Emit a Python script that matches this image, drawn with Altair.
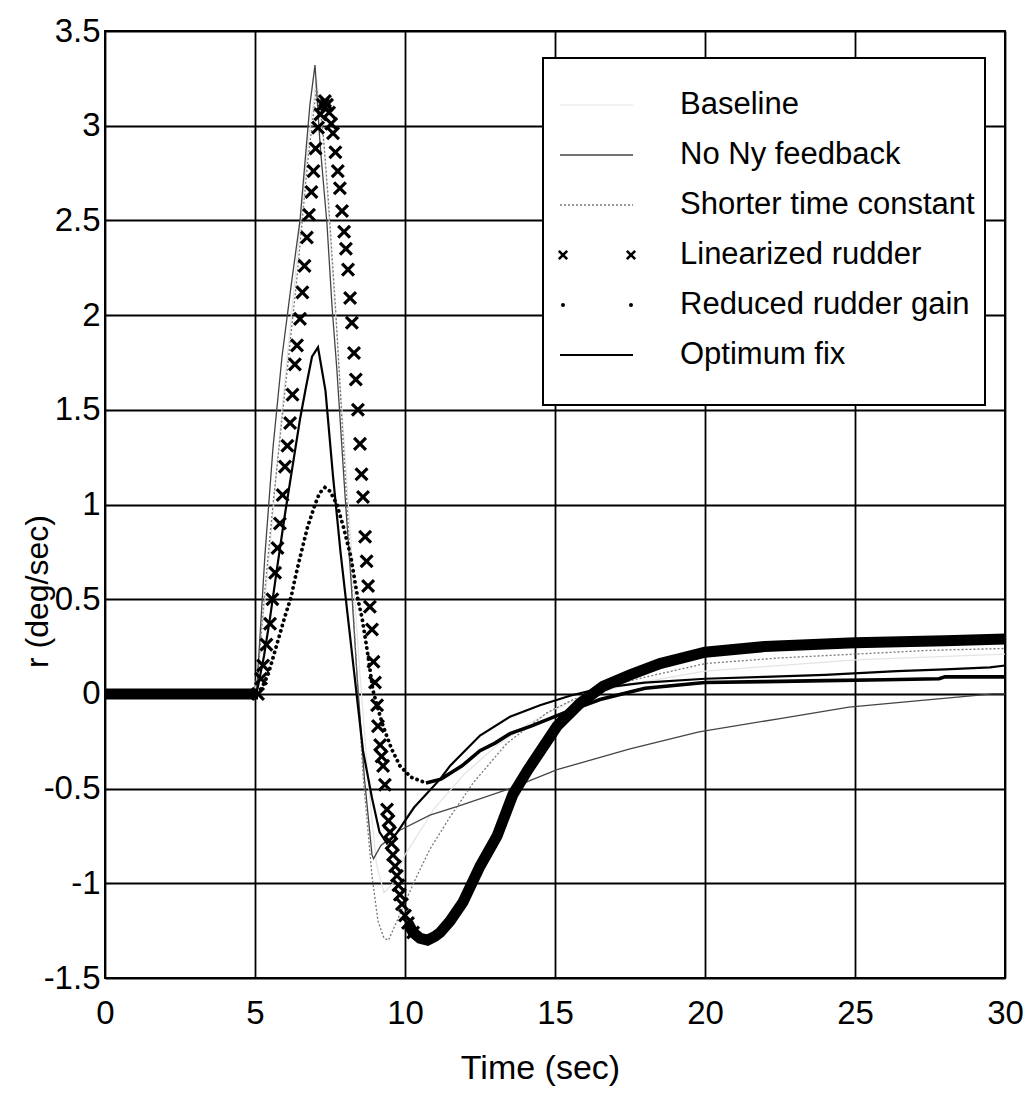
import altair as alt
import pandas as pd

FONT = "Liberation Sans, Arial, Helvetica, sans-serif"

series_names = ["Baseline", "No Ny feedback", "Shorter time constant",
                "Linearized rudder", "Reduced rudder gain", "Optimum fix"]

# Baseline (appears almost invisible in the reference)
t_base = [0, 5.0, 5.4, 5.9, 6.4, 6.8, 7.05, 7.3, 7.6, 7.9, 8.2, 8.5, 8.8, 9.05, 9.3, 9.6,
          10.0, 11.0, 12.0, 13.0, 14.0, 15.0, 16.0, 17.5, 20.0, 25.0, 30.0]
r_base = [0, 0, 0.6, 1.5, 2.3, 2.95, 3.25, 2.9, 2.2, 1.5, 0.8, 0.1, -0.5, -0.9, -1.05, -1.0,
          -0.85, -0.6, -0.42, -0.28, -0.17, -0.08, -0.01, 0.05, 0.12, 0.18, 0.21]

# No Ny feedback
t_nony = [0, 5.05, 5.33, 5.6, 5.9, 6.2, 6.5, 6.83, 7.0, 7.17, 7.4, 7.57, 7.73, 8.0, 8.2, 8.4,
          8.65, 8.9, 8.95, 9.2, 9.83, 10.83, 11.83, 13.5, 15.07, 17.5, 19.8, 22.5, 24.8, 27.5,
          29.6, 30]
r_nony = [0, 0, 0.73, 1.3, 1.78, 2.15, 2.5, 3.11, 3.32, 2.9, 2.48, 2.04, 1.71, 1.05, 0.6, 0.1,
          -0.45, -0.85, -0.87, -0.8, -0.72, -0.64, -0.59, -0.5, -0.4, -0.29, -0.2, -0.13, -0.07,
          -0.03, 0.0, 0.0]

# Shorter time constant
t_short = [0, 5.05, 5.3, 5.6, 6.0, 6.4, 6.75, 7.05, 7.25, 7.45, 7.7, 7.95, 8.2, 8.4, 8.6, 8.9,
           9.1, 9.3, 9.45, 9.73, 10.0, 10.4, 10.83, 11.5, 12.27, 13.4, 14.73, 15.6, 17.5, 20,
           22.5, 25, 27.5, 30]
r_short = [0, 0, 0.5, 1.0, 1.6, 2.2, 2.8, 3.2, 3.0, 2.6, 2.0, 1.3, 0.65, 0.1, -0.43, -0.96,
           -1.2, -1.29, -1.3, -1.2, -1.1, -0.96, -0.82, -0.65, -0.47, -0.26, -0.1, -0.03, 0.07,
           0.16, 0.19, 0.21, 0.23, 0.24]

# Linearized rudder
t_lin = [0, 5.1, 5.2, 5.27, 5.38, 5.5, 5.58, 5.67, 5.75, 5.83, 5.92, 6.0, 6.08, 6.17, 6.25,
         6.33, 6.4, 6.5, 6.58, 6.65, 6.73, 6.8, 6.88, 6.95, 7.02, 7.1, 7.18, 7.26, 7.33, 7.4,
         7.47, 7.54, 7.6, 7.68, 7.76, 7.83, 7.9, 7.97, 8.03, 8.1, 8.17, 8.23, 8.3, 8.36, 8.43,
         8.5, 8.55, 8.6, 8.67, 8.72, 8.77, 8.83, 8.9, 8.95, 9.0, 9.07, 9.1, 9.17, 9.22, 9.27,
         9.33, 9.4, 9.45, 9.5, 9.55, 9.6, 9.67, 9.73, 9.78, 9.83, 9.9, 10.0, 10.1, 10.27, 10.5,
         10.75, 11.0, 11.17, 11.5, 11.93, 12.5, 13.07, 13.6, 14.1, 15.07, 15.83, 16.6, 17.5,
         18.5, 20, 22, 25, 28, 30]
r_lin = [0, 0, 0.08, 0.15, 0.26, 0.37, 0.5, 0.64, 0.77, 0.9, 1.05, 1.2, 1.31, 1.43, 1.58,
         1.74, 1.84, 1.98, 2.12, 2.26, 2.41, 2.53, 2.65, 2.76, 2.88, 2.99, 3.06, 3.11, 3.13, 3.11,
         3.07, 3.01, 2.96, 2.86, 2.76, 2.67, 2.55, 2.44, 2.35, 2.24, 2.09, 1.96, 1.8, 1.66, 1.5,
         1.32, 1.16, 1.04, 0.83, 0.7, 0.57, 0.46, 0.34, 0.17, 0.06, -0.06, -0.17, -0.27, -0.33,
         -0.38, -0.48, -0.61, -0.67, -0.73, -0.79, -0.85, -0.91, -0.96, -1.01, -1.06, -1.11,
         -1.17, -1.21, -1.26, -1.29, -1.3, -1.28, -1.26, -1.2, -1.1, -0.91, -0.75, -0.53, -0.4,
         -0.17, -0.05, 0.04, 0.1, 0.16, 0.22, 0.25, 0.27, 0.28, 0.29]

# Reduced rudder gain
t_red = [0, 5.1, 5.25, 5.43, 5.6, 5.8, 6.0, 6.2, 6.35, 6.5, 6.75, 7.0, 7.15, 7.33, 7.5, 7.73,
         7.95, 8.2, 8.43, 8.57, 8.75, 8.93, 9.1, 9.27, 9.55, 9.83, 10.2, 10.7, 11.2, 11.9, 12.5,
         13.0, 13.5, 14.2, 15.3, 16.5, 17.5, 18, 20, 22, 24, 26, 27.8, 28, 30]
r_red = [0, 0, 0.04, 0.1, 0.19, 0.3, 0.41, 0.51, 0.62, 0.72, 0.88, 1.0, 1.06, 1.09, 1.07, 1.0,
         0.88, 0.72, 0.5, 0.4, 0.22, 0.02, -0.08, -0.17, -0.29, -0.38, -0.44, -0.47, -0.45,
         -0.38, -0.3, -0.26, -0.21, -0.17, -0.1, -0.03, 0.01, 0.03, 0.06, 0.065, 0.07, 0.075,
         0.08, 0.09, 0.09]

# Optimum fix
t_opt = [0, 5.05, 5.3, 5.5, 5.75, 6.0, 6.25, 6.5, 6.7, 6.9, 7.1, 7.35, 7.6, 7.85, 8.1, 8.35,
         8.6, 8.9, 9.15, 9.4, 9.7, 10.3, 11.17, 11.5, 12.5, 13.5, 14.5, 15.5, 16.5, 17.5, 18,
         20, 22, 24, 26.4, 28, 29.5, 30]
r_opt = [0, 0, 0.2, 0.4, 0.68, 0.95, 1.2, 1.45, 1.62, 1.78, 1.83, 1.6, 1.15, 0.75, 0.4, 0.05,
         -0.3, -0.55, -0.73, -0.79, -0.74, -0.6, -0.45, -0.38, -0.22, -0.12, -0.06, -0.01, 0.03,
         0.05, 0.06, 0.08, 0.09, 0.1, 0.12, 0.13, 0.14, 0.15]

x_ticks = [0, 5, 10, 15, 20, 25, 30]
y_ticks = [-1.5, -1.0, -0.5, 0.0, 0.5, 1.0, 1.5, 2.0, 2.5, 3.0, 3.5]


def df(t, r):
    return pd.DataFrame({"t": t, "r": r})


xscale = alt.Scale(domain=[0, 30], nice=False, zero=False)
yscale = alt.Scale(domain=[-1.5, 3.5], nice=False, zero=False)

xaxis = alt.Axis(values=x_ticks, title="Time (sec)", grid=True, gridColor="black",
                 gridWidth=1.8, gridOpacity=1, domain=False, ticks=False,
                 labelFont=FONT, labelFontSize=33, labelColor="black", labelPadding=19,
                 labelFlush=False, titleFont=FONT, titleFontSize=34, titleFontWeight="normal",
                 titleColor="black", titleX=435, titleY=100, titleBaseline="alphabetic",
                 titleAlign="center")
yaxis = alt.Axis(values=y_ticks, title="r (deg/sec)", grid=True, gridColor="black",
                 gridWidth=1.8, gridOpacity=1, domain=False, ticks=False,
                 labelFont=FONT, labelFontSize=33, labelColor="black", labelPadding=5,
                 labelFlush=False,
                 labelExpr="datum.value < 0 ? '-' + format(-datum.value, '') : format(datum.value, '')",
                 titleFont=FONT, titleFontSize=32, titleFontWeight="normal", titleColor="black",
                 titleAngle=270, titleX=-68, titleY=560, titleBaseline="middle",
                 titleAlign="center")

X = alt.X("t:Q", scale=xscale, axis=xaxis)
Y = alt.Y("r:Q", scale=yscale, axis=yaxis)

layers = []

# Baseline: faint
layers.append(alt.Chart(df(t_base, r_base)).mark_line(color="#e4e4e4", strokeWidth=1.2)
              .encode(x=X, y=Y))
# No Ny feedback: thin grey
layers.append(alt.Chart(df(t_nony, r_nony)).mark_line(color="#444444", strokeWidth=1.3)
              .encode(x=X, y=Y))
# Shorter time constant: thin dotted grey
layers.append(alt.Chart(df(t_short, r_short)).mark_line(color="#777777", strokeWidth=1.3,
                                                       strokeDash=[2, 2])
              .encode(x=X, y=Y))
# Optimum fix: solid black
layers.append(alt.Chart(df(t_opt, r_opt)).mark_line(color="black", strokeWidth=2.2)
              .encode(x=X, y=Y))

# Reduced rudder gain: dots where sparse, dense (solid) elsewhere
red = alt.Chart(df(t_red, r_red)).transform_calculate(
    part="datum.t <= 5.1 ? 'a' : (datum.t >= 10.7 ? 'c' : 'b')")
layers.append(red.transform_filter("datum.t >= 5.1 && datum.t <= 10.7")
              .mark_line(color="black", strokeWidth=3.8, strokeDash=[0.1, 5.5],
                         strokeCap="round")
              .encode(x=X, y=Y))
layers.append(red.transform_filter("datum.part != 'b'")
              .mark_line(color="black", strokeWidth=3.6)
              .encode(x=X, y=Y, detail="part:N"))

# Linearized rudder: x markers, dense band where markers overlap
lin = alt.Chart(df(t_lin, r_lin)).transform_calculate(
    part="datum.t <= 5.1 ? 'a' : (datum.t >= 10.1 ? 'c' : 'b')")
layers.append(lin.transform_filter("datum.part != 'b'")
              .mark_line(color="black", strokeWidth=11)
              .encode(x=X, y=Y, detail="part:N"))
XSHAPE = "M -1 -1 L 1 1 M -1 1 L 1 -1"
layers.append(lin.transform_filter("datum.t >= 5.1 && datum.t <= 10.27")
              .mark_point(shape=XSHAPE, filled=False, color="black", strokeWidth=3.2,
                          size=140, opacity=1)
              .encode(x=X, y=Y))

# ---- legend box (drawn inside the plot area) ----
one = pd.DataFrame({"k": [0]})
layers.append(alt.Chart(one).mark_rect(fill="white", stroke="black", strokeWidth=2)
              .encode(x=alt.value(438), x2=alt.value(880), y=alt.value(27), y2=alt.value(374)))

row_y = [74, 124, 174, 224, 274, 324]
sx0, sx1 = 455, 528
line_styles = {
    "Baseline": dict(color="#e4e4e4", strokeWidth=1.2),
    "No Ny feedback": dict(color="#444444", strokeWidth=1.3),
    "Shorter time constant": dict(color="#777777", strokeWidth=1.3, strokeDash=[2, 2]),
    "Optimum fix": dict(color="black", strokeWidth=2.2),
}
for i, name in enumerate(series_names):
    yy = row_y[i]
    if name in line_styles:
        layers.append(alt.Chart(one).mark_rule(**line_styles[name])
                      .encode(x=alt.value(sx0), x2=alt.value(sx1), y=alt.value(yy)))
    elif name == "Linearized rudder":
        for xx in (sx0 + 3, sx1 - 2):
            layers.append(alt.Chart(one).mark_point(shape=XSHAPE, filled=False, color="black",
                                                    strokeWidth=2.6, size=70, opacity=1)
                          .encode(x=alt.value(xx), y=alt.value(yy)))
    else:
        for xx in (sx0 + 3, sx1 - 2):
            layers.append(alt.Chart(one).mark_circle(color="black", size=16, opacity=1)
                          .encode(x=alt.value(xx), y=alt.value(yy)))
    layers.append(alt.Chart(pd.DataFrame({"name": [name]}))
                  .mark_text(align="left", baseline="middle", font=FONT, fontSize=31,
                             color="black")
                  .encode(text="name:N", x=alt.value(575), y=alt.value(yy)))

chart = alt.layer(*layers).properties(
    width=900, height=947,
    autosize=alt.AutoSizeParams(type="none"),
    padding={"left": 105, "top": 31, "right": 23, "bottom": 115},
    background="white",
).configure_view(stroke="black", strokeWidth=2)

chart.save("out.html", embed_options={"renderer": "svg", "actions": False})
